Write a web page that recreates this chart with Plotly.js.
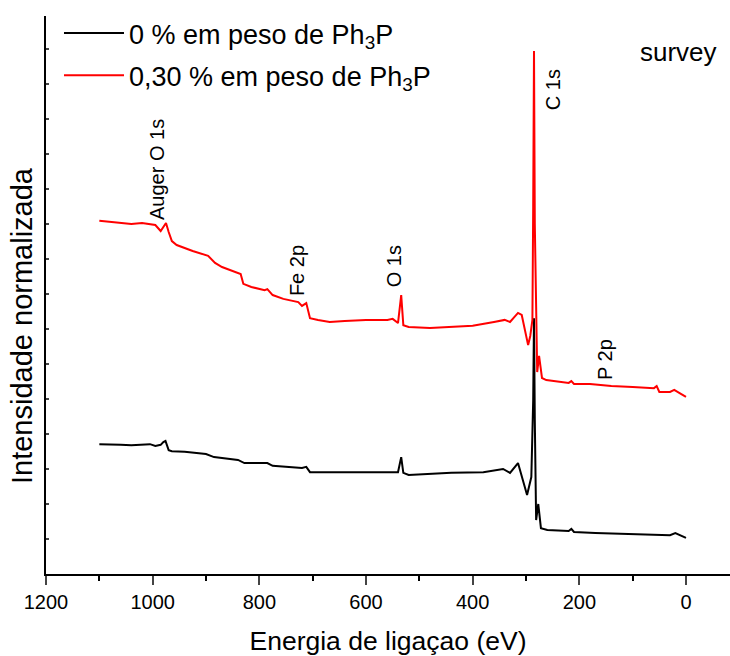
<!DOCTYPE html>
<html>
<head>
<meta charset="utf-8">
<script src="https://cdn.plot.ly/plotly-3.0.1.min.js"></script>
<style>html,body{margin:0;padding:0;background:#fff;}#chart{width:730px;height:656px;}</style>
</head>
<body>
<div id="chart"></div>
<script>
// Binding energy (eV) and normalized intensity (a.u.)
const energyBlack = [1100,1080,1060,1040,1020,1005,995,985,980,976,970,964,940,900,885,860,840,828,800,785,775,740,720,712,705,680,640,600,560,540,534,530,520,480,440,380,350,343,330,315,298,290,286.5,285,283.5,281,277,272,260,220,215,210,170,100,60,30,20,10,0];
const intensityBlack = [3.71,3.69,3.69,3.68,3.69,3.71,3.66,3.69,3.77,3.80,3.54,3.51,3.49,3.43,3.34,3.29,3.26,3.17,3.17,3.17,3.09,3.06,3.03,3.06,2.91,2.91,2.91,2.91,2.91,2.91,3.34,2.89,2.83,2.86,2.89,2.91,3.00,3.00,2.89,3.17,2.26,2.77,4.97,7.31,4.4,1.54,2.0,1.31,1.26,1.23,1.29,1.2,1.17,1.14,1.14,1.11,1.17,1.11,1.03];
const energyRed = [1100,1080,1060,1040,1020,1005,995,985,978,975,970,964,955,940,925,896,883,870,850,835,830,815,790,785,775,755,727,720,712,705,690,668,640,600,560,550,540,534,530,520,480,440,400,360,340,330,315,308,296,292,288,286.5,285,283.5,281,279,275.5,270,262,220,215,210,180,140,100,60,55,50,30,22,12,0];
const intensityRed = [10.09,10.06,10.03,10.0,10.03,10.0,9.97,9.8,9.94,10.03,9.77,9.51,9.4,9.31,9.23,9.09,8.89,8.77,8.66,8.57,8.29,8.2,8.11,8.14,7.97,7.86,7.77,7.66,7.74,7.31,7.26,7.2,7.23,7.26,7.26,7.29,7.17,7.97,7.11,7.06,7.03,7.06,7.09,7.2,7.26,7.2,7.46,7.4,6.54,6.8,7.26,10.5,14.94,10.0,7.2,5.77,6.23,5.6,5.54,5.46,5.51,5.43,5.43,5.37,5.34,5.31,5.37,5.2,5.2,5.26,5.17,5.06];
const seriesNames = ['0 % em peso de Ph<sub>3</sub>P', '0,30 % em peso de Ph<sub>3</sub>P'];
const peakLabels = ['Auger O 1s', 'Fe 2p', 'O 1s', 'C 1s', 'P 2p'];
const peakLabelX = [992, 729, 547, 249, 152];
const peakLabelY = [11.57, 8.66, 8.8, 13.83, 6.14];
const xTicks = [1200, 1000, 800, 600, 400, 200, 0];

const FONT = 'Liberation Sans, Arial, sans-serif';
const traces = [
  {x: energyBlack, y: intensityBlack, name: seriesNames[0], legendgroup: 'a', type: 'scatter', mode: 'lines',
   line: {color: '#000000', width: 2}},
  {x: energyRed, y: intensityRed, name: seriesNames[1], legendgroup: 'b', type: 'scatter', mode: 'lines',
   line: {color: '#ff0000', width: 2}}
];
const annotations = peakLabels.map((t, i) => ({
  text: t, x: peakLabelX[i], y: peakLabelY[i], xref: 'x', yref: 'y',
  textangle: -90, showarrow: false, xanchor: 'center', yanchor: 'middle',
  font: {family: FONT, size: 20, color: '#000'}
}));
annotations.push({text: 'survey', x: (678-46)/684, y: (574-52)/558, xref: 'paper', yref: 'paper',
  showarrow: false, xanchor: 'center', yanchor: 'middle',
  font: {family: FONT, size: 26, color: '#000'}});
annotations.push({text: 'Intensidade normalizada', x: (22-46)/684, y: (574-326)/558, xref: 'paper', yref: 'paper',
  showarrow: false, xanchor: 'center', yanchor: 'middle', textangle: -90,
  font: {family: FONT, size: 29, color: '#000'}});

const layout = {
  width: 730, height: 656,
  margin: {l: 46, r: 0, t: 16, b: 82},
  paper_bgcolor: '#fff', plot_bgcolor: '#fff',
  font: {family: FONT, color: '#000'},
  showlegend: true,
  legend: {x: 0.019, y: 1.0125, xanchor: 'left', yanchor: 'top', bgcolor: 'rgba(0,0,0,0)',
           itemwidth: 60, tracegroupgap: 4,
           font: {family: FONT, size: 27, color: '#000'}},
  xaxis: {range: [1200, -82.5], tickvals: xTicks, ticks: 'outside', ticklen: 9, tickwidth: 2,
          showline: true, linewidth: 2, linecolor: '#000', showgrid: false, zeroline: false,
          tickfont: {family: FONT, size: 20, color: '#000'},
          minor: {dtick: 100, ticks: 'outside', ticklen: 5, tickwidth: 2, tickcolor: '#000'},
          title: {text: 'Energia de ligaçao (eV)', font: {family: FONT, size: 26.5, color: '#000'}, standoff: 20}},
  xaxis2: {range: [1200, -82.5], overlaying: 'x', side: 'top', anchor: 'y', dtick: 100, tick0: 0,
           ticks: 'inside', ticklen: 3, tickwidth: 2, showticklabels: false, showline: true,
           linewidth: 2, linecolor: '#000', showgrid: false, zeroline: false},
  yaxis: {range: [0, 15.943], dtick: 1, tick0: 0, ticks: 'inside', ticklen: 3, tickwidth: 2,
          showticklabels: false, showline: true, linewidth: 2, linecolor: '#000',
          showgrid: false, zeroline: false},
  annotations: annotations
};
Plotly.newPlot('chart', traces, layout, {displayModeBar: false, staticPlot: true});
</script>
</body>
</html>
